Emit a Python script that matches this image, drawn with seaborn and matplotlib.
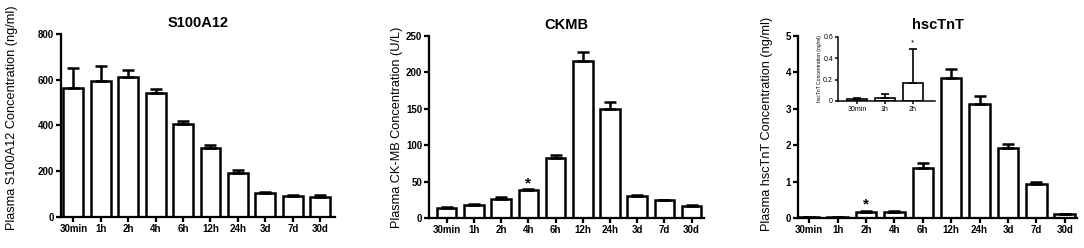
import numpy as np
import pandas as pd
import seaborn as sns
import matplotlib.pyplot as plt

times = ["30min", "1h", "2h", "4h", "6h", "12h", "24h", "3d", "7d", "30d"]

s100_mean = [564, 593, 611, 541, 406, 300, 193, 106, 92, 89]
s100_sem = [88, 69, 32, 20, 14, 13, 12, 2, 3, 7]

ckmb_mean = [13.4, 17.5, 26.7, 38.7, 83, 215, 150, 30.8, 24.4, 16.6]
ckmb_sem = [1.3, 1.8, 2.8, 1.3, 3.5, 12.5, 9, 1.0, 0.9, 1.4]

tnt_mean = [0.02, 0.03, 0.165, 0.17, 1.36, 3.84, 3.12, 1.91, 0.94, 0.11]
tnt_sem = [0.01, 0.01, 0.02, 0.03, 0.14, 0.24, 0.24, 0.13, 0.06, 0.01]

inset_times = ["30min", "1h", "2h"]
inset_mean = [0.022, 0.031, 0.165]
inset_sem = [0.009, 0.037, 0.32]

sns.set_style("ticks")
plt.rcParams['font.family'] = ['Liberation Sans', 'DejaVu Sans']
for k in ['text.color', 'axes.labelcolor', 'xtick.color', 'ytick.color', 'axes.edgecolor']:
    plt.rcParams[k] = 'black'


def bar_panel(ax, labels, mean, sem, lw=1.8, cap=4, tick_fs=7, bold=True):
    df = pd.DataFrame({'time': labels, 'value': mean})
    sns.barplot(data=df, x='time', y='value', order=labels, color='white', saturation=1,
                edgecolor='black', linewidth=lw, width=0.72, errorbar=None, ax=ax)
    x = np.arange(len(labels))
    ax.errorbar(x, mean, yerr=[np.zeros(len(sem)), sem], fmt='none', ecolor='black',
                elinewidth=lw, capsize=cap, capthick=lw, zorder=1)
    sns.despine(ax=ax)
    for sp in ['left', 'bottom']:
        ax.spines[sp].set_linewidth(lw * 0.9)
    ax.tick_params(width=lw * 0.9, length=3.5, labelsize=tick_fs, pad=1.5)
    for t in ax.get_xticklabels() + ax.get_yticklabels():
        t.set_fontweight('bold' if bold else 'normal')
    ax.set_xlabel("")


fig = plt.figure(figsize=(10.84, 2.48), dpi=100)
ax1 = fig.add_axes([0.0563, 0.125, 0.253, 0.738])
ax2 = fig.add_axes([0.396, 0.121, 0.253, 0.734])
ax3 = fig.add_axes([0.736, 0.121, 0.258, 0.734])

# S100A12
bar_panel(ax1, times, s100_mean, s100_sem)
ax1.set_ylim(0, 800)
ax1.set_yticks([0, 200, 400, 600, 800])
ax1.set_xlim(-0.45, 9.55)
ax1.set_title("S100A12", fontsize=10.5, fontweight='bold', pad=5)
ax1.set_ylabel("Plasma S100A12 Concentration (ng/ml)", fontsize=9.2)
ax1.yaxis.set_label_coords(-0.157, 0.54)

# CKMB
bar_panel(ax2, times, ckmb_mean, ckmb_sem)
ax2.set_ylim(0, 250)
ax2.set_yticks([0, 50, 100, 150, 200, 250])
ax2.set_xlim(-0.64, 9.44)
ax2.set_title("CKMB", fontsize=10.5, fontweight='bold', pad=5)
ax2.set_ylabel("Plasma CK-MB Concentration (U/L)", fontsize=9.2)
ax2.yaxis.set_label_coords(-0.095, 0.5)
ax2.text(3, 47, "*", ha='center', va='center', fontsize=11, fontweight='bold')

# hscTnT
bar_panel(ax3, times, tnt_mean, tnt_sem)
ax3.set_ylim(0, 5)
ax3.set_yticks([0, 1, 2, 3, 4, 5])
ax3.set_xlim(-0.4, 9.45)
ax3.set_title("hscTnT", fontsize=10.5, fontweight='bold', pad=5)
ax3.set_ylabel("Plasma hscTnT Concentration (ng/ml)", fontsize=9.2)
ax3.yaxis.set_label_coords(-0.089, 0.516)
ax3.text(2, 0.36, "*", ha='center', va='center', fontsize=11, fontweight='bold')

# inset
axi = fig.add_axes([0.773, 0.593, 0.0895, 0.258])
bar_panel(axi, inset_times, inset_mean, inset_sem, lw=1.2, cap=3, tick_fs=5, bold=False)
axi.set_ylim(0, 0.6)
axi.set_yticks([0, 0.2, 0.4, 0.6])
axi.set_yticklabels(["0", "0.2", "0.4", "0.6"])
axi.set_xlim(-0.68, 2.79)
axi.tick_params(length=2.5, pad=1)
axi.set_ylabel("hscTnT Concentration (ng/ml)", fontsize=3.6, labelpad=1)
axi.text(2, 0.54, "*", ha='center', va='center', fontsize=6)

fig.savefig("out.png", dpi=100)
